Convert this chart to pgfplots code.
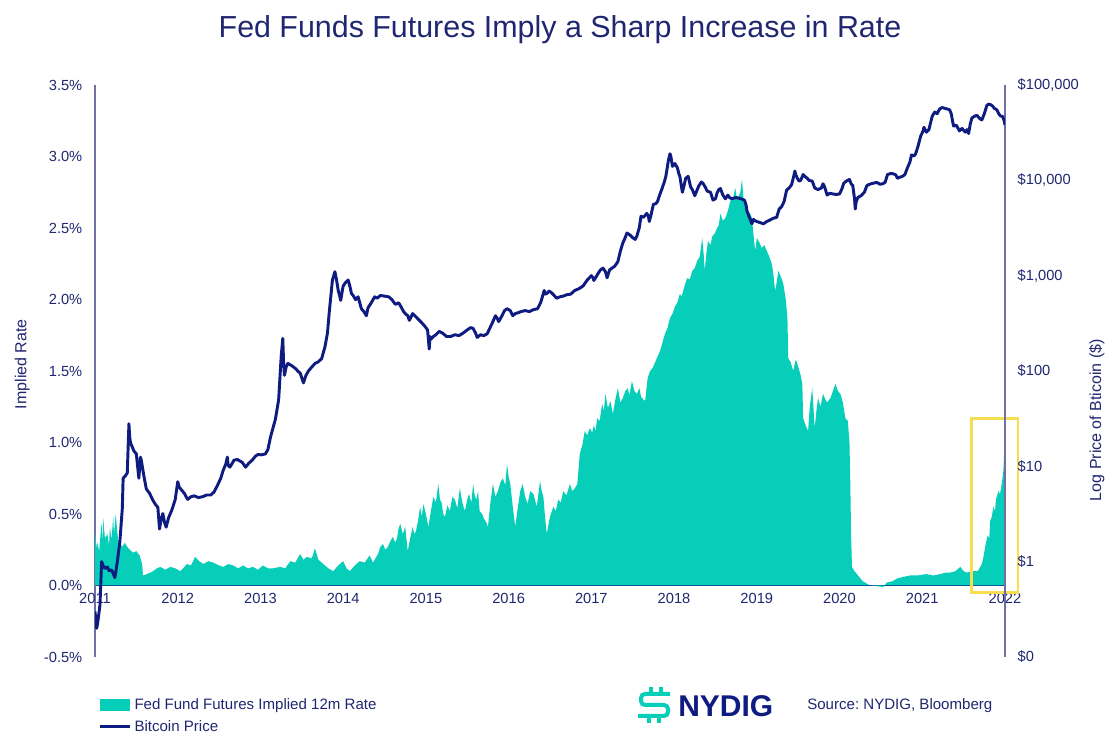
\documentclass[border=0pt]{standalone}
\usepackage{pgfplots}
\pgfplotsset{compat=1.18}
\usepackage{fontspec}
\setmainfont{Liberation Sans}
\frenchspacing

\definecolor{navy}{RGB}{14,27,128}
\definecolor{txtnavy}{RGB}{32,38,112}
\definecolor{axisgray}{RGB}{110,112,165}
\definecolor{fedteal}{RGB}{6,206,184}
\definecolor{boxyellow}{RGB}{247,222,80}

\begin{document}
\begin{tikzpicture}
\useasboundingbox (0,0) rectangle (840pt,561pt);

% left axis: implied 12m rate
\begin{axis}[
    at={(71.25pt,68.25pt)}, anchor=south west,
    width=682.5pt, height=429pt, scale only axis,
    xmin=2011, xmax=2022, ymin=-0.5, ymax=3.5,
    axis x line=middle, axis y line=left,
    hide obscured x ticks=false,
    axis line style={-},
    y axis line style={axisgray, line width=0.9pt},
    x axis line style={navy, line width=0.9pt},
    xtick={2011,2012,...,2022},
    ytick={-0.5,0,0.5,1,1.5,2,2.5,3,3.5},
    yticklabel={\pgfmathprintnumber[fixed,fixed zerofill,precision=1]{\tick}\%},
    /pgf/number format/1000 sep={},
    /pgf/number format/assume math mode=true,
    major tick length=0pt, tick style={draw=none},
    tick label style={font=\fontsize{11}{13}\selectfont, text=txtnavy},
    xticklabel style={yshift=-2pt},
    yticklabel style={xshift=-6pt},
    ylabel={Implied Rate},
    ylabel style={at={(axis description cs:-0.080,0.512)}, anchor=center,
        font=\fontsize{12}{14}\selectfont, text=txtnavy},
    clip=false,
    legend style={at={(axis description cs:0.004,-0.068)}, anchor=north west,
        draw=none, fill=none, inner sep=0pt,
        font=\fontsize{11.3}{13}\selectfont, text=txtnavy,
        row sep=2.5pt},
    legend cell align=left,
]
\addplot[fill=fedteal, draw=none,
    legend image code/.code={\fill[fedteal] (0pt,-4.5pt) rectangle (22.5pt,4.5pt);}]
coordinates {
(2011.00,0.38) (2011.02,0.26) (2011.03,0.30) (2011.05,0.24) (2011.06,0.31) (2011.08,0.44)
(2011.09,0.30) (2011.10,0.47) (2011.12,0.33) (2011.15,0.36) (2011.17,0.28) (2011.18,0.41)
(2011.20,0.32) (2011.22,0.48) (2011.23,0.36) (2011.25,0.50) (2011.28,0.31) (2011.33,0.27)
(2011.36,0.30) (2011.39,0.27) (2011.42,0.25) (2011.46,0.23) (2011.50,0.24) (2011.54,0.21)
(2011.57,0.15) (2011.58,0.07) (2011.63,0.08) (2011.70,0.10) (2011.75,0.12) (2011.79,0.13)
(2011.85,0.11) (2011.91,0.13) (2011.97,0.12) (2012.03,0.10) (2012.08,0.13) (2012.11,0.15)
(2012.16,0.14) (2012.21,0.20) (2012.26,0.17) (2012.31,0.15) (2012.37,0.17) (2012.43,0.16)
(2012.50,0.14) (2012.55,0.13) (2012.61,0.15) (2012.67,0.14) (2012.73,0.12) (2012.79,0.14)
(2012.85,0.12) (2012.91,0.13) (2012.97,0.11) (2013.03,0.14) (2013.09,0.12) (2013.15,0.12)
(2013.24,0.13) (2013.30,0.12) (2013.36,0.17) (2013.42,0.16) (2013.48,0.22) (2013.52,0.18)
(2013.56,0.20) (2013.62,0.19) (2013.66,0.26) (2013.70,0.18) (2013.76,0.15) (2013.82,0.12)
(2013.88,0.10) (2013.94,0.14) (2014.00,0.17) (2014.04,0.12) (2014.08,0.10) (2014.14,0.14)
(2014.20,0.17) (2014.26,0.16) (2014.32,0.21) (2014.36,0.16) (2014.42,0.22) (2014.45,0.27)
(2014.48,0.29) (2014.51,0.25) (2014.54,0.27) (2014.57,0.31) (2014.60,0.34) (2014.63,0.30)
(2014.65,0.33) (2014.67,0.40) (2014.69,0.43) (2014.72,0.36) (2014.75,0.41) (2014.78,0.24)
(2014.81,0.33) (2014.84,0.41) (2014.86,0.36) (2014.88,0.38) (2014.91,0.47) (2014.93,0.55)
(2014.95,0.48) (2014.97,0.57) (2015.00,0.50) (2015.03,0.41) (2015.06,0.52) (2015.09,0.62)
(2015.12,0.58) (2015.15,0.71) (2015.17,0.60) (2015.19,0.58) (2015.21,0.50) (2015.23,0.48)
(2015.26,0.56) (2015.29,0.52) (2015.32,0.62) (2015.35,0.60) (2015.38,0.54) (2015.41,0.68)
(2015.44,0.58) (2015.47,0.52) (2015.50,0.60) (2015.52,0.64) (2015.55,0.58) (2015.57,0.71)
(2015.59,0.63) (2015.61,0.60) (2015.63,0.66) (2015.65,0.52) (2015.68,0.50) (2015.70,0.47)
(2015.73,0.44) (2015.75,0.41) (2015.78,0.58) (2015.81,0.71) (2015.84,0.62) (2015.87,0.66)
(2015.90,0.72) (2015.93,0.75) (2015.96,0.70) (2015.98,0.85) (2016.00,0.76) (2016.02,0.71)
(2016.05,0.55) (2016.08,0.41) (2016.10,0.50) (2016.12,0.58) (2016.14,0.66) (2016.17,0.71)
(2016.20,0.62) (2016.23,0.57) (2016.26,0.66) (2016.30,0.64) (2016.34,0.55) (2016.36,0.64)
(2016.38,0.73) (2016.40,0.66) (2016.42,0.62) (2016.44,0.48) (2016.46,0.36) (2016.50,0.48)
(2016.54,0.55) (2016.57,0.52) (2016.60,0.60) (2016.63,0.58) (2016.66,0.66) (2016.70,0.63)
(2016.74,0.71) (2016.77,0.66) (2016.80,0.68) (2016.83,0.71) (2016.86,0.92) (2016.89,0.98)
(2016.92,1.08) (2016.95,1.05) (2016.98,1.10) (2017.01,1.07) (2017.03,1.12) (2017.05,1.08)
(2017.07,1.17) (2017.10,1.15) (2017.13,1.27) (2017.15,1.22) (2017.17,1.34) (2017.20,1.24)
(2017.23,1.29) (2017.26,1.20) (2017.29,1.30) (2017.32,1.38) (2017.35,1.28) (2017.38,1.31)
(2017.41,1.36) (2017.44,1.38) (2017.46,1.33) (2017.49,1.43) (2017.52,1.36) (2017.55,1.34)
(2017.58,1.38) (2017.60,1.32) (2017.63,1.30) (2017.65,1.29) (2017.68,1.45) (2017.71,1.50)
(2017.74,1.52) (2017.77,1.56) (2017.80,1.60) (2017.83,1.64) (2017.86,1.70) (2017.89,1.76)
(2017.92,1.80) (2017.95,1.87) (2017.98,1.90) (2018.01,1.95) (2018.04,1.98) (2018.07,2.04)
(2018.09,2.02) (2018.12,2.08) (2018.14,2.12) (2018.16,2.15) (2018.19,2.14) (2018.22,2.20)
(2018.25,2.22) (2018.28,2.27) (2018.31,2.30) (2018.34,2.43) (2018.36,2.30) (2018.37,2.20)
(2018.39,2.32) (2018.41,2.41) (2018.44,2.38) (2018.46,2.44) (2018.49,2.46) (2018.52,2.50)
(2018.54,2.52) (2018.56,2.60) (2018.59,2.55) (2018.62,2.57) (2018.65,2.62) (2018.68,2.69)
(2018.71,2.70) (2018.74,2.78) (2018.76,2.70) (2018.77,2.71) (2018.80,2.75) (2018.82,2.84)
(2018.84,2.70) (2018.86,2.69) (2018.89,2.62) (2018.92,2.60) (2018.94,2.57) (2018.96,2.45)
(2018.98,2.34) (2019.00,2.43) (2019.03,2.40) (2019.06,2.36) (2019.09,2.38) (2019.12,2.34)
(2019.15,2.30) (2019.18,2.25) (2019.20,2.18) (2019.22,2.06) (2019.24,2.12) (2019.26,2.20)
(2019.29,2.16) (2019.32,2.11) (2019.35,2.00) (2019.37,1.87) (2019.38,1.59) (2019.41,1.56)
(2019.44,1.50) (2019.47,1.58) (2019.49,1.55) (2019.53,1.47) (2019.55,1.41) (2019.56,1.17)
(2019.59,1.12) (2019.62,1.08) (2019.64,1.25) (2019.67,1.38) (2019.70,1.10) (2019.72,1.22)
(2019.74,1.31) (2019.77,1.25) (2019.80,1.34) (2019.83,1.30) (2019.85,1.28) (2019.89,1.31)
(2019.92,1.36) (2019.95,1.41) (2019.98,1.36) (2020.01,1.34) (2020.04,1.28) (2020.07,1.17)
(2020.10,1.15) (2020.12,1.00) (2020.13,0.71) (2020.14,0.35) (2020.15,0.13) (2020.18,0.10)
(2020.21,0.08) (2020.28,0.03) (2020.37,0.00) (2020.53,-0.01) (2020.57,0.02) (2020.64,0.03)
(2020.70,0.05) (2020.77,0.06) (2020.85,0.07) (2020.94,0.07) (2021.05,0.08) (2021.13,0.07)
(2021.22,0.08) (2021.28,0.09) (2021.34,0.09) (2021.40,0.10) (2021.46,0.13) (2021.50,0.10)
(2021.54,0.09) (2021.61,0.10) (2021.67,0.10) (2021.72,0.15) (2021.74,0.20) (2021.76,0.27)
(2021.79,0.35) (2021.81,0.33) (2021.82,0.45) (2021.84,0.48) (2021.86,0.55) (2021.88,0.52)
(2021.89,0.60) (2021.92,0.66) (2021.94,0.64) (2021.96,0.71) (2021.98,0.80) (2021.99,0.94)
(2022.00,1.06)
} \closedcycle;
\addlegendentry{Fed Fund Futures Implied 12m Rate}
\addlegendimage{navy, line width=2.2pt,
    legend image code/.code={\draw[navy, line width=2.2pt] (0pt,0pt) -- (22.5pt,0pt);}}
\addlegendentry{Bitcoin Price}
\draw[boxyellow, line width=2.2pt] (axis cs:2021.60,1.17) rectangle (axis cs:2022.157,-0.05);
\end{axis}

% right axis: log price of bitcoin
\begin{axis}[
    at={(71.25pt,68.25pt)}, anchor=south west,
    width=682.5pt, height=429pt, scale only axis,
    xmin=2011, xmax=2022, ymode=log, ymin=0.1, ymax=100000,
    axis y line*=right, axis x line=none,
    axis line style={-, axisgray, line width=0.9pt},
    ytick={0.1,1,10,100,1000,10000,100000},
    yticklabels={\$0,\$1,\$10,\$100,\$1{,}000,\$10{,}000,\$100{,}000},
    major tick length=0pt, minor tick length=0pt, tick style={draw=none},
    tick label style={font=\fontsize{11}{13}\selectfont, text=txtnavy},
    yticklabel style={xshift=6pt},
    ylabel={Log Price of Bticoin (\$)},
    ylabel style={at={(axis description cs:1.101,0.414)}, anchor=center,
        font=\fontsize{12}{14}\selectfont, text=txtnavy},
]
\addplot[navy, line width=2.2pt, line join=round] coordinates {
(2011.00,0.30) (2011.02,0.20) (2011.03,0.22) (2011.05,0.30) (2011.06,0.35) (2011.08,1.0)
(2011.10,0.90) (2011.12,0.85) (2011.15,0.88) (2011.17,0.80) (2011.20,0.82) (2011.22,0.75)
(2011.24,0.68) (2011.27,1.0) (2011.30,1.6) (2011.33,3.6) (2011.34,7.5) (2011.37,8.0)
(2011.39,8.5) (2011.41,28) (2011.42,20) (2011.43,17.5) (2011.45,16.0) (2011.47,14.5)
(2011.50,13.5) (2011.51,11.0) (2011.53,7.5) (2011.55,12.5) (2011.56,11.5) (2011.59,8.0)
(2011.62,5.8) (2011.66,5.2) (2011.70,4.4) (2011.73,4.0) (2011.76,3.7) (2011.78,2.2)
(2011.80,2.8) (2011.82,3.2) (2011.84,2.6) (2011.86,2.3) (2011.89,2.9) (2011.93,3.5)
(2011.97,4.5) (2012.00,6.9) (2012.02,6.0) (2012.05,5.6) (2012.08,5.2) (2012.12,4.5)
(2012.16,4.8) (2012.20,4.9) (2012.25,4.7) (2012.30,4.8) (2012.35,5.0) (2012.40,5.0)
(2012.44,5.4) (2012.48,6.3) (2012.52,7.5) (2012.55,9.1) (2012.58,10.5) (2012.60,12.5)
(2012.61,10.2) (2012.63,9.8) (2012.66,10.8) (2012.68,11.6) (2012.72,11.8) (2012.78,11.0)
(2012.82,9.8) (2012.86,10.8) (2012.90,11.6) (2012.94,12.8) (2012.97,13.3) (2013.01,13.2)
(2013.06,13.5) (2013.09,15) (2013.12,20) (2013.15,25) (2013.18,31) (2013.22,50)
(2013.25,140) (2013.27,220) (2013.28,120) (2013.29,90) (2013.31,110) (2013.33,120)
(2013.37,115) (2013.40,110) (2013.43,105) (2013.45,100) (2013.48,95) (2013.52,75)
(2013.55,90) (2013.58,100) (2013.62,110) (2013.66,120) (2013.70,125) (2013.74,135)
(2013.78,180) (2013.81,250) (2013.83,400) (2013.85,600) (2013.87,900) (2013.90,1100)
(2013.92,900) (2013.94,700) (2013.96,600) (2013.97,550) (2013.99,700) (2014.00,780)
(2014.03,850) (2014.06,900) (2014.08,780) (2014.10,650) (2014.12,620) (2014.15,560)
(2014.18,600) (2014.22,450) (2014.25,420) (2014.28,380) (2014.30,460) (2014.34,520)
(2014.38,600) (2014.41,580) (2014.45,620) (2014.50,610) (2014.55,600) (2014.59,560)
(2014.63,500) (2014.67,520) (2014.70,470) (2014.73,420) (2014.75,400) (2014.78,380)
(2014.80,340) (2014.84,400) (2014.88,370) (2014.92,340) (2014.95,320) (2014.98,300)
(2015.02,270) (2015.04,170) (2015.05,230) (2015.06,215) (2015.09,230) (2015.12,240)
(2015.16,260) (2015.20,250) (2015.25,230) (2015.30,230) (2015.35,240) (2015.40,235)
(2015.45,250) (2015.50,270) (2015.54,285) (2015.57,280) (2015.60,250) (2015.62,225)
(2015.66,240) (2015.70,235) (2015.74,245) (2015.78,290) (2015.81,330) (2015.84,380)
(2015.86,360) (2015.88,330) (2015.92,380) (2015.95,430) (2015.98,450) (2016.02,430)
(2016.05,380) (2016.08,400) (2016.12,410) (2016.15,420) (2016.20,430) (2016.25,420)
(2016.30,440) (2016.35,450) (2016.39,530) (2016.43,700) (2016.44,640) (2016.46,650)
(2016.49,690) (2016.52,660) (2016.55,620) (2016.58,580) (2016.62,600) (2016.66,610)
(2016.70,630) (2016.75,640) (2016.80,700) (2016.85,730) (2016.90,780) (2016.95,900)
(2017.00,1000) (2017.02,950) (2017.03,890) (2017.06,980) (2017.08,1050) (2017.11,1150)
(2017.14,1200) (2017.17,1100) (2017.19,950) (2017.22,1150) (2017.25,1200) (2017.28,1250)
(2017.32,1400) (2017.35,1800) (2017.38,2200) (2017.40,2400) (2017.43,2800) (2017.46,2700)
(2017.48,2600) (2017.50,2500) (2017.53,2400) (2017.55,2600) (2017.58,3200) (2017.60,4200)
(2017.63,4100) (2017.67,4500) (2017.69,4200) (2017.70,3700) (2017.72,4300) (2017.75,5600)
(2017.78,5700) (2017.80,6000) (2017.83,7200) (2017.85,8000) (2017.88,9500) (2017.90,11000)
(2017.92,14000) (2017.93,16000) (2017.95,19000) (2017.96,18000) (2017.98,14000) (2018.01,15000)
(2018.03,14000) (2018.04,13500) (2018.06,11500) (2018.07,11000) (2018.09,8500) (2018.10,7500)
(2018.12,8800) (2018.14,10500) (2018.17,11000) (2018.20,8500) (2018.22,8000) (2018.25,6900)
(2018.28,8000) (2018.30,8800) (2018.33,9600) (2018.35,9300) (2018.38,8400) (2018.40,7700)
(2018.44,7500) (2018.47,6200) (2018.50,6400) (2018.52,7400) (2018.54,8000) (2018.56,8200)
(2018.59,7000) (2018.62,6400) (2018.65,7000) (2018.67,6600) (2018.70,6400) (2018.72,6500)
(2018.75,6600) (2018.78,6500) (2018.81,6400) (2018.83,6300) (2018.85,6200) (2018.87,5500)
(2018.88,4800) (2018.90,4300) (2018.92,3900) (2018.94,3500) (2018.96,3900) (2018.97,3800)
(2019.00,3700) (2019.04,3600) (2019.08,3500) (2019.12,3700) (2019.15,3800) (2019.20,4000)
(2019.24,4100) (2019.27,5000) (2019.30,5300) (2019.33,6000) (2019.36,7900) (2019.39,8300)
(2019.42,9000) (2019.44,10500) (2019.46,12500) (2019.47,11500) (2019.49,10500) (2019.51,9800)
(2019.53,10000) (2019.56,11500) (2019.58,11000) (2019.61,10500) (2019.63,10000) (2019.67,9800)
(2019.70,8300) (2019.74,8000) (2019.78,8300) (2019.80,9200) (2019.82,8500) (2019.85,7000)
(2019.88,7300) (2019.92,7200) (2019.96,7100) (2020.00,7200) (2020.03,8200) (2020.05,9300)
(2020.08,9800) (2020.12,10200) (2020.14,9200) (2020.16,8800) (2020.18,6500) (2020.19,5000)
(2020.20,5900) (2020.22,6600) (2020.26,6900) (2020.30,7500) (2020.33,8800) (2020.35,9000)
(2020.40,9300) (2020.45,9500) (2020.49,9100) (2020.52,9200) (2020.55,9500) (2020.58,11500)
(2020.62,11800) (2020.65,11700) (2020.68,11400) (2020.70,10500) (2020.73,10800) (2020.76,11000)
(2020.79,11500) (2020.82,13500) (2020.85,15500) (2020.87,18500) (2020.90,18000) (2020.92,19000)
(2020.95,23000) (2020.98,29000) (2021.01,33000) (2021.02,36000) (2021.05,32000) (2021.08,34000)
(2021.10,40000) (2021.12,47000) (2021.15,52000) (2021.18,50000) (2021.21,56000) (2021.24,58000)
(2021.27,57000) (2021.30,56000) (2021.33,55000) (2021.35,50000) (2021.37,40000) (2021.38,37000)
(2021.41,38000) (2021.45,33000) (2021.48,35000) (2021.52,32000) (2021.54,34000) (2021.56,31000)
(2021.58,39000) (2021.60,45000) (2021.63,47000) (2021.66,48000) (2021.70,44000) (2021.72,43000)
(2021.75,50000) (2021.78,61000) (2021.80,63000) (2021.83,62000) (2021.85,60000) (2021.87,57000)
(2021.90,55000) (2021.93,49000) (2021.95,47000) (2021.97,47000) (2021.99,42000) (2022.00,38000)
};
\end{axis}

% title, logo and source (pixel grid of the reference)
\begin{scope}[x=0.75pt, y=-0.75pt, shift={(0pt,561pt)}]
\node[text=txtnavy, font=\fontsize{22.8}{26}\selectfont] at (560,30)
    {Fed Funds Futures Imply a Sharp Increase in Rate};
\draw[fedteal, line width=3pt, rounded corners=3pt]
    (670,694) -- (641,694) -- (641,705) -- (668,705) -- (668,716) -- (638,716);
\draw[fedteal, line width=3pt] (651,687) -- (651,694) (661,687) -- (661,694)
    (649,716) -- (649,723) (659,716) -- (659,723);
\node[anchor=west, text=navy, inner sep=0pt, font=\fontsize{22.5}{25}\selectfont\bfseries]
    at (678,706) {NYDIG};
\node[anchor=west, text=txtnavy, inner sep=0pt, font=\fontsize{11.3}{13}\selectfont]
    at (807,706) {Source: NYDIG, Bloomberg};
\end{scope}
\end{tikzpicture}
\end{document}
